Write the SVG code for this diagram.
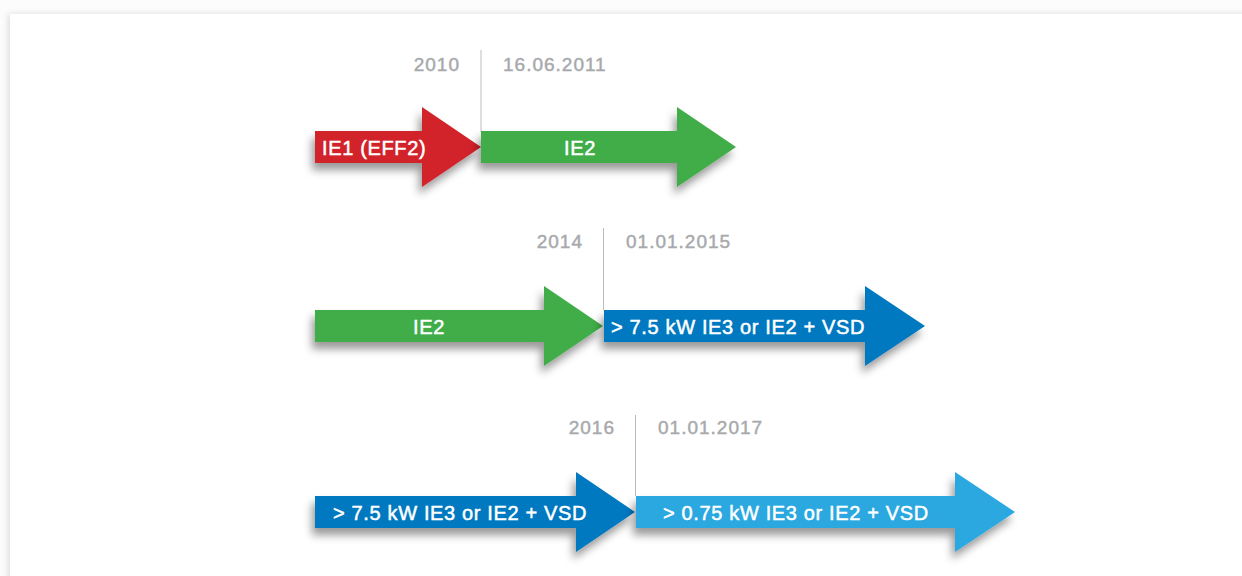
<svg xmlns="http://www.w3.org/2000/svg" width="1242" height="576" viewBox="0 0 1242 576">
  <defs>
    <filter id="card" x="-5%" y="-5%" width="110%" height="110%">
      <feDropShadow dx="-2" dy="0" stdDeviation="3" flood-color="#000" flood-opacity="0.12"/>
    </filter>
    <filter id="sh" x="-10%" y="-30%" width="120%" height="170%">
      <feDropShadow dx="-3" dy="7" stdDeviation="4.5" flood-color="#000" flood-opacity="0.4"/>
    </filter>
  </defs>
  <style>
    .lbl { font-family: "Liberation Sans", Arial, sans-serif; font-size: 20px; fill: #ffffff; stroke: #ffffff; stroke-width: 0.5px; letter-spacing: 0.65px; }
    .date { font-family: "Liberation Sans", Arial, sans-serif; font-size: 19px; fill: #A7A9AC; stroke: #A7A9AC; stroke-width: 0.45px; letter-spacing: 1px; }
    .tick { stroke: #BDBDBD; stroke-width: 1; fill: none; }
    .red { fill: #D2232A; }
    .green { fill: #41AD49; }
    .blue { fill: #0079C1; }
    .lblue { fill: #29A8DF; }
  </style>
  <rect x="0" y="0" width="1242" height="576" fill="#FCFCFC"/>
  <rect x="10" y="14" width="1260" height="620" fill="#ffffff" filter="url(#card)"/>

  <g id="milestones">
    <line class="tick" x1="481" y1="50" x2="481" y2="132"/>
    <text class="date" x="460" y="71" text-anchor="end">2010</text>
    <text class="date" x="503" y="71">16.06.2011</text>
    <line class="tick" x1="603.5" y1="228" x2="603.5" y2="310"/>
    <text class="date" x="583" y="248" text-anchor="end">2014</text>
    <text class="date" x="626" y="248">01.01.2015</text>
    <line class="tick" x1="635.5" y1="415" x2="635.5" y2="496"/>
    <text class="date" x="615" y="434" text-anchor="end">2016</text>
    <text class="date" x="658" y="434">01.01.2017</text>
  </g>

  <g id="arrow-ie1">
    <path class="red" filter="url(#sh)" d="M315 131 H422 V107 L481 147 L422 187 V163 H315 Z"/>
    <text class="lbl" x="322" y="155">IE1 (EFF2)</text>
  </g>
  <g id="arrow-ie2-2011">
    <path class="green" filter="url(#sh)" d="M481 131 H677 V107 L736 147 L677 187 V163 H481 Z"/>
    <text class="lbl" x="580" y="155" text-anchor="middle">IE2</text>
  </g>

  <g id="arrow-ie2-2014">
    <path class="green" filter="url(#sh)" d="M315 310 H544 V286 L603 326 L544 366 V342 H315 Z"/>
    <text class="lbl" x="429" y="334" text-anchor="middle">IE2</text>
  </g>
  <g id="arrow-ie3-2015">
    <path class="blue" filter="url(#sh)" d="M604 310 H865 V286 L925 326 L865 366 V342 H604 Z"/>
    <text class="lbl" x="611" y="334">&gt; 7.5 kW IE3 or IE2 + VSD</text>
  </g>

  <g id="arrow-ie3-2016">
    <path class="blue" filter="url(#sh)" d="M315 496 H576 V472 L635 512 L576 552 V528 H315 Z"/>
    <text class="lbl" x="333" y="520">&gt; 7.5 kW IE3 or IE2 + VSD</text>
  </g>
  <g id="arrow-ie3-2017">
    <path class="lblue" filter="url(#sh)" d="M636 496 H955 V472 L1015 512 L955 552 V528 H636 Z"/>
    <text class="lbl" x="663" y="520">&gt; 0.75 kW IE3 or IE2 + VSD</text>
  </g>
</svg>
